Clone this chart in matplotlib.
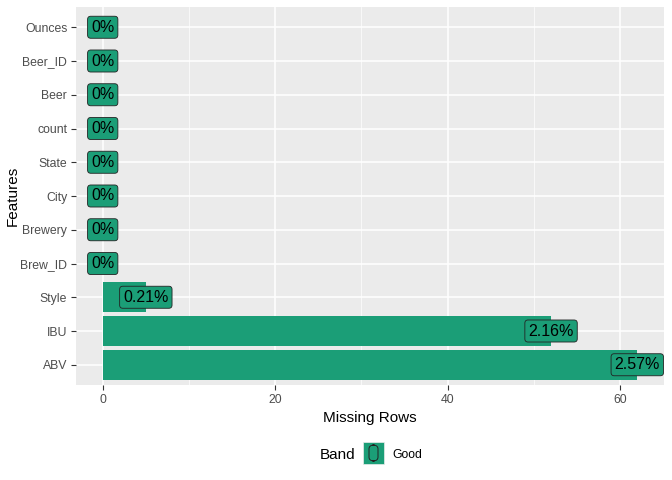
import matplotlib.pyplot as plt
from matplotlib.patches import Rectangle, FancyBboxPatch
import numpy as np

plt.rcParams['font.family'] = ['Liberation Sans', 'DejaVu Sans']

features = ['ABV', 'IBU', 'Style', 'Brew_ID', 'Brewery', 'City', 'State',
            'count', 'Beer', 'Beer_ID', 'Ounces']
missing = [62, 52, 5, 0, 0, 0, 0, 0, 0, 0, 0]
pct_labels = ['2.57%', '2.16%', '0.21%', '0%', '0%', '0%', '0%', '0%', '0%', '0%', '0%']
band = 'Good'

green = '#1B9E77'
W, H = 672, 480

fig = plt.figure(figsize=(6.72, 4.8), dpi=100)
ax = fig.add_axes([76 / W, 1 - 385 / H, (664 - 76) / W, (385 - 7) / H])
ax.set_facecolor('#EBEBEB')

ypos = np.arange(len(features))
ax.barh(ypos, missing, height=0.9, color=green, zorder=2)

for y, v, lab in zip(ypos, missing, pct_labels):
    ax.text(v, y, lab, ha='center', va='center', fontsize=11.5, color='black', zorder=3,
            bbox=dict(boxstyle='round,pad=0.22,rounding_size=0.2', fc=green,
                      ec='#222222', lw=0.6))

xmax = max(missing)
ax.set_xlim(-0.05 * xmax, 1.05 * xmax)
ax.set_ylim(-0.6, len(features) - 0.4)
ax.set_yticks(ypos)
ax.set_yticklabels(features)
ax.set_xticks([0, 20, 40, 60])
ax.set_xticks([10, 30, 50], minor=True)
ax.grid(True, which='major', color='white', lw=1.1, zorder=0)
ax.grid(True, which='minor', axis='x', color='white', lw=0.5, zorder=0)
ax.set_axisbelow(True)
for s in ax.spines.values():
    s.set_visible(False)
ax.tick_params(axis='both', which='major', labelsize=8.8, labelcolor='#4D4D4D',
               color='#333333', length=3.8, width=0.8, pad=2.5)
ax.tick_params(axis='x', which='minor', length=0)
ax.set_xlabel('Missing Rows', fontsize=11, labelpad=4)
ax.set_ylabel('Features', fontsize=11, labelpad=0)

# legend drawn by hand, ggplot style at bottom
fig.text(320 / W, 1 - 455 / H, 'Band', fontsize=11, ha='left', va='center')
fig.patches.append(Rectangle((363 / W, 1 - 464 / H), 21 / W, 22 / H, transform=fig.transFigure,
                             fc=green, ec='#EBEBEB', lw=0.5))
fig.patches.append(FancyBboxPatch((369 / W, 1 - 461 / H), 9 / W, 16 / H,
                                  boxstyle='round,pad=0,rounding_size=0.008',
                                  transform=fig.transFigure, fc='none', ec='#222222', lw=0.7))
fig.text(392 / W, 1 - 455 / H, band, fontsize=8.8, ha='left', va='center')

fig.savefig('out.png', dpi=100)
